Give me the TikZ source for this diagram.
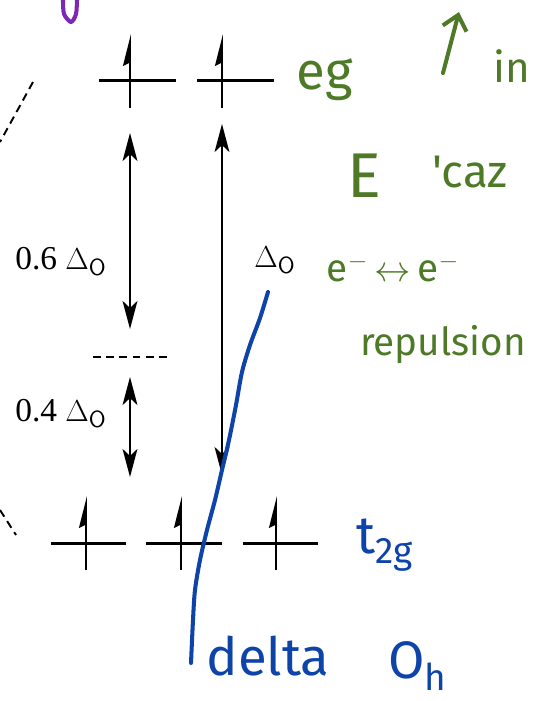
\documentclass[tikz,border=0pt]{standalone}
\usepackage{fontspec}
\setmainfont{Liberation Serif}
\newfontfamily\handfont{Fira Sans}
\usetikzlibrary{arrows.meta,positioning,calc}
\definecolor{inkgreen}{RGB}{78,122,39}
\definecolor{inkblue}{RGB}{14,68,170}
\definecolor{inkpurple}{RGB}{125,40,180}
\tikzset{
  orbline/.style={line width=1.7pt, draw=black},
  spinarrow/.style={-{Stealth[harpoon,length=16pt,width=8pt,inset=2pt]}, line width=1.1pt},
  gaparrow/.style={{Stealth[length=16pt,width=8.5pt,inset=4pt]}-{Stealth[length=16pt,width=8.5pt,inset=4pt]}, line width=0.75pt},
  dashline/.style={dashed, dash pattern=on 4.5pt off 3pt, line width=1.1pt},
  printlabel/.style={font=\fontsize{19}{21}\selectfont, inner sep=0pt},
  greenink/.style={text=inkgreen, font=\handfont\fontsize{22}{24}\selectfont, inner sep=0pt},
  blueink/.style={text=inkblue, font=\handfont\fontsize{30}{32}\selectfont, inner sep=0pt},
  stroke/.style={line width=2.3pt, line cap=round, line join=round},
}
\newcommand{\dO}{\Delta_{\mathsf{O}}}

\begin{document}
\begin{tikzpicture}[x=0.02cm, y=-0.02cm]
  \useasboundingbox (0,0) rectangle (533,701);

  % eg level
  \coordinate (egA1) at (99,80);  \coordinate (egA2) at (176,80);
  \coordinate (egB1) at (197,80); \coordinate (egB2) at (274,80);
  \draw[orbline] (egA1) -- (egA2);
  \draw[orbline] (egB1) -- (egB2);
  \coordinate (egA0) at (130,108); \coordinate (egAt) at (130,34);
  \coordinate (egB0) at (222,108); \coordinate (egBt) at (222,34);
  \draw[spinarrow] (egA0) -- (egAt);
  \draw[spinarrow] (egB0) -- (egBt);

  % t2g level
  \coordinate (tA1) at (51,543);  \coordinate (tA2) at (126,543);
  \coordinate (tB1) at (146,543); \coordinate (tB2) at (222,543);
  \coordinate (tC1) at (243,543); \coordinate (tC2) at (318,543);
  \draw[orbline] (tA1) -- (tA2);
  \draw[orbline] (tB1) -- (tB2);
  \draw[orbline] (tC1) -- (tC2);
  \foreach \x/\n in {86/A,181/B,276/C}{
    \coordinate (t\n0) at (\x,570); \coordinate (t\n t) at (\x,496);
    \draw[spinarrow] (t\n0) -- (t\n t);
  }

  % barycentre
  \coordinate (bc1) at (93,357); \coordinate (bc2) at (169,357);
  \draw[dashline] (bc1) -- (bc2);

  % splitting arrows
  \coordinate (s6a) at (130,133); \coordinate (s6b) at (130,329);
  \coordinate (s4a) at (130,377); \coordinate (s4b) at (130,477);
  \coordinate (dOa) at (222,124); \coordinate (dOb) at (222,475);
  \draw[gaparrow] (s6a) -- (s6b);
  \draw[gaparrow] (s4a) -- (s4b);
  \draw[gaparrow] (dOa) -- (dOb);
  \node[printlabel, anchor=west] (l06) at (15,262) {0.6 $\dO$};
  \node[printlabel, anchor=west] (l04) at (15,414) {0.4 $\dO$};
  \node[printlabel, anchor=west] (ldO) at (254,260) {$\dO$};

  % correlation lines to the left
  \coordinate (c1) at (33,82); \coordinate (c2) at (0,142);
  \coordinate (c3) at (0,510); \coordinate (c4) at (16,535);
  \draw[dashline] (c1) -- (c2);
  \draw[dashline] (c3) -- (c4);

  % green notes
  \node[greenink, font=\handfont\fontsize{30}{32}\selectfont] (neg) at (325,80) {eg};
  \coordinate (upa) at (443,73); \coordinate (upb) at (459,12);
  \draw[stroke, draw=inkgreen, -{Straight Barb[length=8pt,width=14pt]}] (upa) -- (upb);
  \node[greenink, font=\handfont\fontsize{24}{26}\selectfont] (nin) at (512,66) {in};
  \node[greenink, font=\handfont\fontsize{36}{38}\selectfont] (nE) at (364,176) {E};
  \node[greenink, font=\handfont\fontsize{26}{28}\selectfont] (ncaz) at (470,172) {'caz};
  \node[greenink] (nee) at (393,268) {e$^{-}$\,$\leftrightarrow$\,e$^{-}$};
  \node[greenink] (nrep) at (443,345) {repulsion};

  % blue notes
  \draw[stroke, draw=inkblue] plot[smooth] coordinates {(268,292) (260,318) (250,345) (242,372) (236,405) (229,440) (222,470) (215,500) (207,530) (200,560) (195,590) (193,620) (191,663)};
  \node[blueink] (nt2g) at (385,545) {t\textsubscript{2g}};
  \node[blueink] (ndelta) at (268,656) {delta};
  \node[blueink] (nOh) at (418,666) {O\textsubscript{h}};

  % purple mark
  \draw[stroke, draw=inkpurple] plot[smooth] coordinates {(63,0) (64,14) (71,22) (76,14) (77,0)};
\end{tikzpicture}
\end{document}
